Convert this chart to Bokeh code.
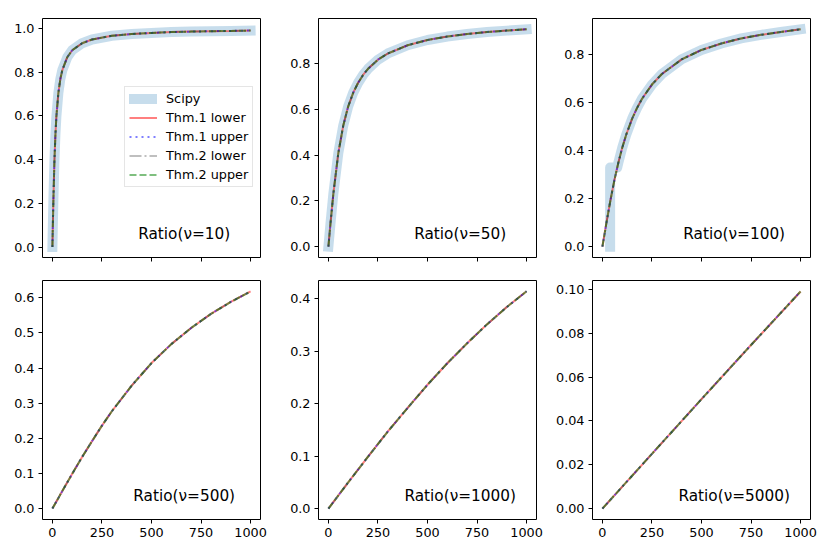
from bokeh.plotting import figure
from bokeh.layouts import gridplot
from bokeh.models import Range1d, FixedTicker, PrintfTickFormatter, Label
from bokeh.embed import file_html
from bokeh.resources import INLINE

# ---------------- data ----------------
x_ticks = [0, 250, 500, 750, 1000]

titles = ["Ratio(ν=10)", "Ratio(ν=50)", "Ratio(ν=100)",
          "Ratio(ν=500)", "Ratio(ν=1000)", "Ratio(ν=5000)"]

x_nu10 = [0, 2, 5, 10, 15, 20, 30, 40, 50, 75, 100, 150, 200, 300, 400, 500, 600, 700, 800, 900, 1000]
y_nu10 = [0.0, 0.090, 0.217, 0.389, 0.510, 0.596, 0.704, 0.768, 0.809, 0.868, 0.900, 0.932, 0.949,
          0.966, 0.974, 0.979, 0.983, 0.985, 0.987, 0.988, 0.990]
scipy_x_nu10 = x_nu10
scipy_y_nu10 = y_nu10

x_nu50 = [0, 10, 25, 50, 75, 100, 125, 150, 175, 200, 250, 300, 400, 500, 600, 700, 800, 900, 1000]
y_nu50 = [0.0, 0.097, 0.232, 0.409, 0.530, 0.614, 0.673, 0.717, 0.751, 0.778, 0.818, 0.845, 0.881,
          0.904, 0.919, 0.930, 0.939, 0.945, 0.951]
scipy_x_nu50 = x_nu50
scipy_y_nu50 = y_nu50

x_nu100 = [0, 20, 40, 60, 80, 100, 120, 150, 175, 200, 250, 300, 400, 500, 600, 700, 800, 900, 1000]
y_nu100 = [0.0, 0.098, 0.191, 0.275, 0.348, 0.412, 0.466, 0.533, 0.578, 0.616, 0.675, 0.719, 0.780,
           0.819, 0.846, 0.867, 0.882, 0.894, 0.905]
scipy_x_nu100 = [39, 39, 75, 80, 100, 120, 150, 175, 200, 250, 300, 400, 500, 600, 700, 800, 900, 1000]
scipy_y_nu100 = [0.0, 0.33, 0.33, 0.348, 0.412, 0.466, 0.533, 0.578, 0.616, 0.675, 0.719, 0.780,
                 0.819, 0.846, 0.867, 0.882, 0.894, 0.905]

x_nu500 = [0, 50, 100, 150, 200, 250, 300, 400, 500, 600, 700, 800, 900, 1000]
y_nu500 = [0.0, 0.050, 0.099, 0.147, 0.192, 0.236, 0.277, 0.350, 0.414, 0.468, 0.514, 0.554, 0.588, 0.618]

x_nu1000 = [0, 100, 200, 300, 400, 500, 600, 700, 800, 900, 1000]
y_nu1000 = [0.0, 0.050, 0.099, 0.147, 0.192, 0.236, 0.277, 0.315, 0.351, 0.384, 0.414]

x_nu5000 = [0, 250, 500, 750, 1000]
y_nu5000 = [0.0, 0.0250, 0.0499, 0.0746, 0.0990]

y_ticks_list = [
    [0.0, 0.2, 0.4, 0.6, 0.8, 1.0],
    [0.0, 0.2, 0.4, 0.6, 0.8, 1.0],
    [0.0, 0.2, 0.4, 0.6, 0.8],
    [0.0, 0.1, 0.2, 0.3, 0.4, 0.5, 0.6],
    [0.0, 0.1, 0.2, 0.3, 0.4],
    [0.0, 0.02, 0.04, 0.06, 0.08, 0.10],
]
y_formats = ["%.1f", "%.1f", "%.1f", "%.1f", "%.1f", "%.2f"]

# ---------------- layout / style ----------------
y_ranges = [(-0.048, 1.045), (-0.0475, 0.998), (-0.045, 0.950),
            (-0.031, 0.649), (-0.0207, 0.4346), (-0.00495, 0.104)]
X_RANGE = (-50, 1050)
FONT = "DejaVu Sans"
TICK_FS = "12.8px"

curves = [
    (x_nu10, y_nu10, scipy_x_nu10, scipy_y_nu10),
    (x_nu50, y_nu50, scipy_x_nu50, scipy_y_nu50),
    (x_nu100, y_nu100, scipy_x_nu100, scipy_y_nu100),
    (x_nu500, y_nu500, None, None),
    (x_nu1000, y_nu1000, None, None),
    (x_nu5000, y_nu5000, None, None),
]

mbl = [42, 40, 40]
mbr = [18, 16, 10]
mbt = [18, 10]
mbb = [13, 25]

figs = []
for i in range(6):
    row, col = divmod(i, 3)
    yr = y_ranges[i]
    p = figure(frame_width=218, frame_height=239,
               x_range=Range1d(*X_RANGE), y_range=Range1d(*yr),
               output_backend="svg", toolbar_location=None,
               min_border_left=mbl[col], min_border_right=mbr[col],
               min_border_top=mbt[row], min_border_bottom=mbb[row])
    p.grid.visible = False
    p.background_fill_color = "white"
    p.border_fill_color = "white"
    p.outline_line_color = "black"
    p.outline_line_width = 1
    p.outline_line_alpha = 1.0
    for ax in p.axis:
        ax.axis_line_color = None
        ax.major_tick_in = 0
        ax.major_tick_out = 4
        ax.major_tick_line_color = "black"
        ax.major_tick_line_width = 1
        ax.minor_tick_line_color = None
        ax.major_label_text_font = FONT
        ax.major_label_text_font_size = TICK_FS
        ax.major_label_text_color = "black"
        ax.major_label_standoff = 4
    if row == 0:
        # shared x axis: tick marks only, no labels
        p.xaxis.ticker = FixedTicker(ticks=[], minor_ticks=x_ticks)
        p.xaxis.minor_tick_in = 0
        p.xaxis.minor_tick_out = 4
        p.xaxis.minor_tick_line_color = "black"
        p.xaxis.minor_tick_line_width = 1
    else:
        p.xaxis.ticker = FixedTicker(ticks=x_ticks)
    p.yaxis.ticker = FixedTicker(ticks=y_ticks_list[i])
    p.yaxis.formatter = PrintfTickFormatter(format=y_formats[i])

    xs, ys, sx, sy = curves[i]
    leg = (i == 0)
    kw = lambda name: ({"legend_label": name} if leg else {})
    if sx is not None:
        p.line(sx, sy, line_color="#1f77b4", line_alpha=0.25, line_width=10,
               line_cap="square", line_join="round", **kw("Scipy"))
    p.line(xs, ys, line_color="red", line_alpha=0.5, line_width=2, **kw("Thm.1 lower"))
    p.line(xs, ys, line_color="blue", line_alpha=0.5, line_width=2, line_dash="2 4",
           **kw("Thm.1 upper"))
    p.line(xs, ys, line_color="black", line_alpha=0.25, line_width=2, line_dash="12 3 2 3",
           **kw("Thm.2 lower"))
    p.line(xs, ys, line_color="green", line_alpha=0.5, line_width=2, line_dash="7 3",
           **kw("Thm.2 upper"))

    lx = X_RANGE[0] + 0.65 * (X_RANGE[1] - X_RANGE[0])
    ly = yr[0] + 0.10 * (yr[1] - yr[0])
    p.add_layout(Label(x=lx, y=ly, text=titles[i], text_align="center",
                       text_baseline="middle", text_font=FONT,
                       text_font_size="15.3px", text_color="black"))

    if leg:
        lg = p.legend[0]
        lg.location = (82, 70)
        lg.margin = 0
        lg.padding = 4
        lg.spacing = 4
        lg.glyph_width = 28
        lg.glyph_height = 15
        lg.label_height = 15
        lg.label_standoff = 9
        lg.label_text_font = FONT
        lg.label_text_font_size = TICK_FS
        lg.label_text_color = "black"
        lg.border_line_color = "#cccccc"
        lg.border_line_width = 1
        lg.background_fill_color = "white"
        lg.background_fill_alpha = 0.8
    figs.append(p)

grid = gridplot([figs[0:3], figs[3:6]], toolbar_location=None)

open("out.html", "w").write(file_html(grid, INLINE))
